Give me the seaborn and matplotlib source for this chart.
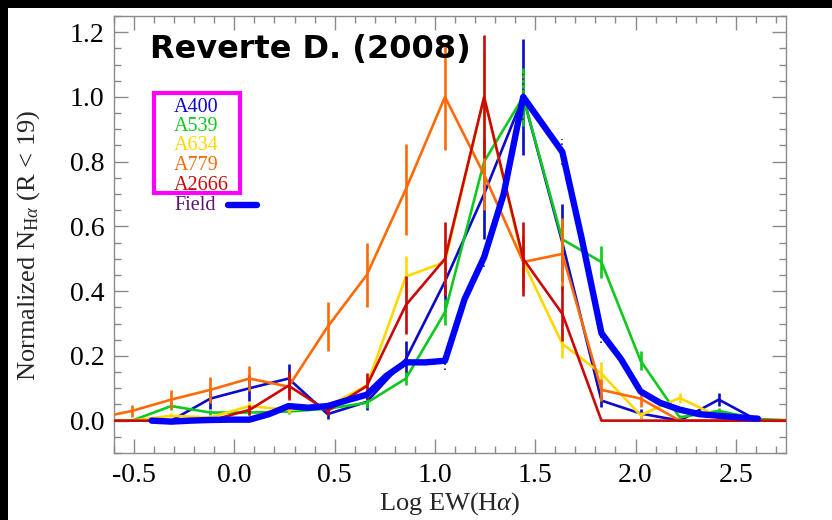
import numpy as np
import pandas as pd
import matplotlib
matplotlib.use("Agg")
import matplotlib.pyplot as plt
from matplotlib.patches import Rectangle
from matplotlib.ticker import MultipleLocator
import seaborn as sns

# ---------------- data ----------------
log_ew = [-0.705, -0.51, -0.315, -0.12, 0.075, 0.27, 0.465, 0.66, 0.855, 1.05,
          1.245, 1.44, 1.635, 1.83, 2.025, 2.22, 2.415, 2.61, 2.805]

a400 = [0, 0, 0, 0.068, 0.10, 0.13, 0.02, 0.058, 0.19, 0.43,
        0.70, 1.0, 0.55, 0.062, 0.022, 0.0, 0.065, 0.0, 0.0]
a400_err = [0, 0, 0, 0.032, 0.04, 0.045, 0.015, 0.025, 0.055, 0.09,
            0.14, 0.18, 0.12, 0.02, 0.015, 0, 0.02, 0, 0]

a539 = [0, 0, 0.045, 0.025, 0.025, 0.028, 0.037, 0.055, 0.13, 0.335,
        0.80, 1.0, 0.56, 0.49, 0.185, 0.01, 0.03, 0.005, 0.0]
a539_err = [0, 0, 0.012, 0.008, 0.008, 0.008, 0.01, 0.015, 0.02, 0.04,
            0.07, 0.09, 0.06, 0.05, 0.03, 0.008, 0.01, 0, 0]

a634 = [0, 0, 0.015, 0.01, 0.045, 0.033, 0.045, 0.108, 0.445, 0.49,
        1.0, 0.49, 0.237, 0.145, 0.017, 0.07, 0.012, 0.0, 0.0]
a634_err = [0, 0, 0.008, 0.008, 0.012, 0.01, 0.012, 0.02, 0.065, 0.07,
            0.14, 0.08, 0.045, 0.035, 0.01, 0.015, 0.008, 0, 0]

a779 = [0.005, 0.03, 0.065, 0.095, 0.13, 0.105, 0.29, 0.45, 0.715, 1.0,
        0.76, 0.49, 0.515, 0.095, 0.068, 0.0, 0.0, 0.0, 0.0]
a779_err = [0, 0.018, 0.03, 0.04, 0.04, 0.035, 0.075, 0.10, 0.14, 0.165,
            0.11, 0.08, 0.11, 0.035, 0.025, 0, 0, 0, 0]

a2666 = [0, 0, 0, 0, 0.033, 0.108, 0.03, 0.107, 0.357, 0.5,
         1.0, 0.5, 0.33, 0, 0, 0, 0, 0, 0]
a2666_err = [0, 0, 0, 0, 0.015, 0.045, 0.012, 0.04, 0.09, 0.115,
             0.19, 0.115, 0.085, 0, 0, 0, 0, 0, 0]

field_x = [-0.4125, -0.315, -0.2175, -0.12, -0.0225, 0.075, 0.1725, 0.27,
           0.3675, 0.465, 0.5625, 0.66, 0.7575, 0.855, 0.9525, 1.05,
           1.1475, 1.245, 1.3425, 1.44, 1.5375, 1.635, 1.7325, 1.83,
           1.9275, 2.025, 2.1225, 2.22, 2.3175, 2.415, 2.5125, 2.61]
field = [0.0, -0.003, 0.0, 0.002, 0.003, 0.003, 0.02, 0.045,
         0.04, 0.045, 0.063, 0.08, 0.138, 0.18, 0.18, 0.185,
         0.375, 0.505, 0.70, 1.0, 0.915, 0.83, 0.56, 0.27,
         0.19, 0.09, 0.055, 0.034, 0.02, 0.015, 0.01, 0.006]
field_err = [0, 0, 0, 0, 0, 0, 0, 0.01,
             0, 0.01, 0, 0.015, 0, 0.03, 0, 0.03,
             0, 0.03, 0, 0.07, 0, 0.04, 0, 0.03,
             0, 0.01, 0, 0, 0, 0, 0, 0]

clusters = ["A400", "A539", "A634", "A779", "A2666"]
cluster_vals = [a400, a539, a634, a779, a2666]
cluster_errs = [a400_err, a539_err, a634_err, a779_err, a2666_err]
colors = {"A400": "#0a0ac8", "A539": "#10c81e", "A634": "#ffd800",
          "A779": "#ff6a08", "A2666": "#c80a0a"}
field_color = "#0000ff"
field_text_color = "#5a1470"

title_text = "Reverte D. (2008)"
xlabel_text = r"Log EW(H$\alpha$)"
ylabel_text = r"Normalized N$_{\mathrm{H}\alpha}$ (R < 19)"

# ---------------- figure ----------------
sns.set_theme(style="white")
plt.rcParams["font.family"] = ["Liberation Serif", "DejaVu Serif"]
plt.rcParams["mathtext.fontset"] = "custom"
plt.rcParams["mathtext.rm"] = "Liberation Serif"
plt.rcParams["mathtext.it"] = "Liberation Serif:italic"

W, H = 832, 520
fig = plt.figure(figsize=(W / 100, H / 100), dpi=100)
fig.patch.set_facecolor("white")
L, R, T, B = 114, 786, 16, 453
ax = fig.add_axes([L / W, 1 - B / H, (R - L) / W, (B - T) / H])

rows = []
for name, vals, errs in zip(clusters, cluster_vals, cluster_errs):
    for x, v, e in zip(log_ew, vals, errs):
        rows.append({"logew": x, "n": v, "err": e, "cluster": name})
df = pd.DataFrame(rows)

for name in clusters:
    sub = df[df["cluster"] == name]
    sns.lineplot(data=sub, x="logew", y="n", color=colors[name], lw=1.9,
                 estimator=None, sort=False, ax=ax, legend=False, zorder=3)
    s = sub[sub["err"] > 0]
    ax.vlines(s["logew"], s["n"] - s["err"], s["n"] + s["err"],
              color=colors[name], lw=1.9, zorder=3)

fdf = pd.DataFrame({"logew": field_x, "n": field, "err": field_err})
fe = fdf[fdf["err"] > 0]
ax.vlines(fe["logew"], fe["n"] - fe["err"], fe["n"] + fe["err"],
          color=field_text_color, lw=1.2, linestyles=(0, (1, 2)), zorder=4)
sns.lineplot(data=fdf, x="logew", y="n", color=field_color, lw=4.6,
             estimator=None, sort=False, ax=ax, legend=False, zorder=5,
             solid_capstyle="round", solid_joinstyle="round")

ax.set_xlim(-0.6, 2.75)
ax.set_ylim(-0.1, 1.25)
ax.xaxis.set_major_locator(MultipleLocator(0.5))
ax.xaxis.set_minor_locator(MultipleLocator(0.1))
ax.yaxis.set_major_locator(MultipleLocator(0.2))
ax.yaxis.set_minor_locator(MultipleLocator(0.05))
ax.xaxis.set_major_formatter(matplotlib.ticker.FormatStrFormatter("%.1f"))
ax.yaxis.set_major_formatter(matplotlib.ticker.FormatStrFormatter("%.1f"))

tick_color = "#8a8a8a"
ax.tick_params(which="both", direction="in", top=True, right=True,
               bottom=True, left=True, color=tick_color, width=1.0)
ax.tick_params(which="major", length=10, labelsize=20, pad=7, labelcolor="black")
ax.tick_params(which="minor", length=5)
for sp in ax.spines.values():
    sp.set_color(tick_color)
    sp.set_linewidth(1.0)

ax.set_xlabel(xlabel_text, fontsize=19)
ax.xaxis.set_label_coords(0.5, (B - 504) / (B - T))
ax.xaxis.label.set_va("center")
ax.set_ylabel(ylabel_text, fontsize=19)
ax.yaxis.set_label_coords((42 - L) / (R - L), (B - 245) / (B - T))


def px2ax(px, py):
    return ((px - L) / (R - L), (B - py) / (B - T))


tx, ty = px2ax(150, 58)
ax.text(tx, ty, title_text, transform=ax.transAxes, fontsize=23,
        fontweight="bold", family="DejaVu Sans", color="black",
        va="baseline", ha="left", zorder=8)

# legend box
bx0, by0 = px2ax(154, 193)
bx1, by1 = px2ax(240, 93)
ax.add_patch(Rectangle((bx0, by0), bx1 - bx0, by1 - by0, transform=ax.transAxes,
                       fill=False, edgecolor="#ff00ff", lw=3.0, zorder=6))
for i, name in enumerate(clusters):
    tx, ty = px2ax(174, 107 + 19.5 * i)
    ax.text(tx, ty, name, transform=ax.transAxes, color=colors[name],
            fontsize=14.5, va="center", ha="left", zorder=7)
tx, ty = px2ax(174, 205)
ax.text(tx, ty, "Field", transform=ax.transAxes, color=field_text_color,
        fontsize=14.5, va="center", ha="left", zorder=7)
lx0, ly = px2ax(228, 205)
lx1, _ = px2ax(257, 205)
ax.plot([lx0, lx1], [ly, ly], transform=ax.transAxes, color=field_color,
        lw=4.6, solid_capstyle="round", zorder=7)

# black frame strips (top and left) seen in the reference
fig.patches.append(Rectangle((0, 1 - 8 / H), 1, 8 / H, transform=fig.transFigure,
                             facecolor="black", edgecolor="none", zorder=10))
fig.patches.append(Rectangle((0, 0), 8 / W, 1, transform=fig.transFigure,
                             facecolor="black", edgecolor="none", zorder=10))

fig.savefig("out.png", dpi=100)
